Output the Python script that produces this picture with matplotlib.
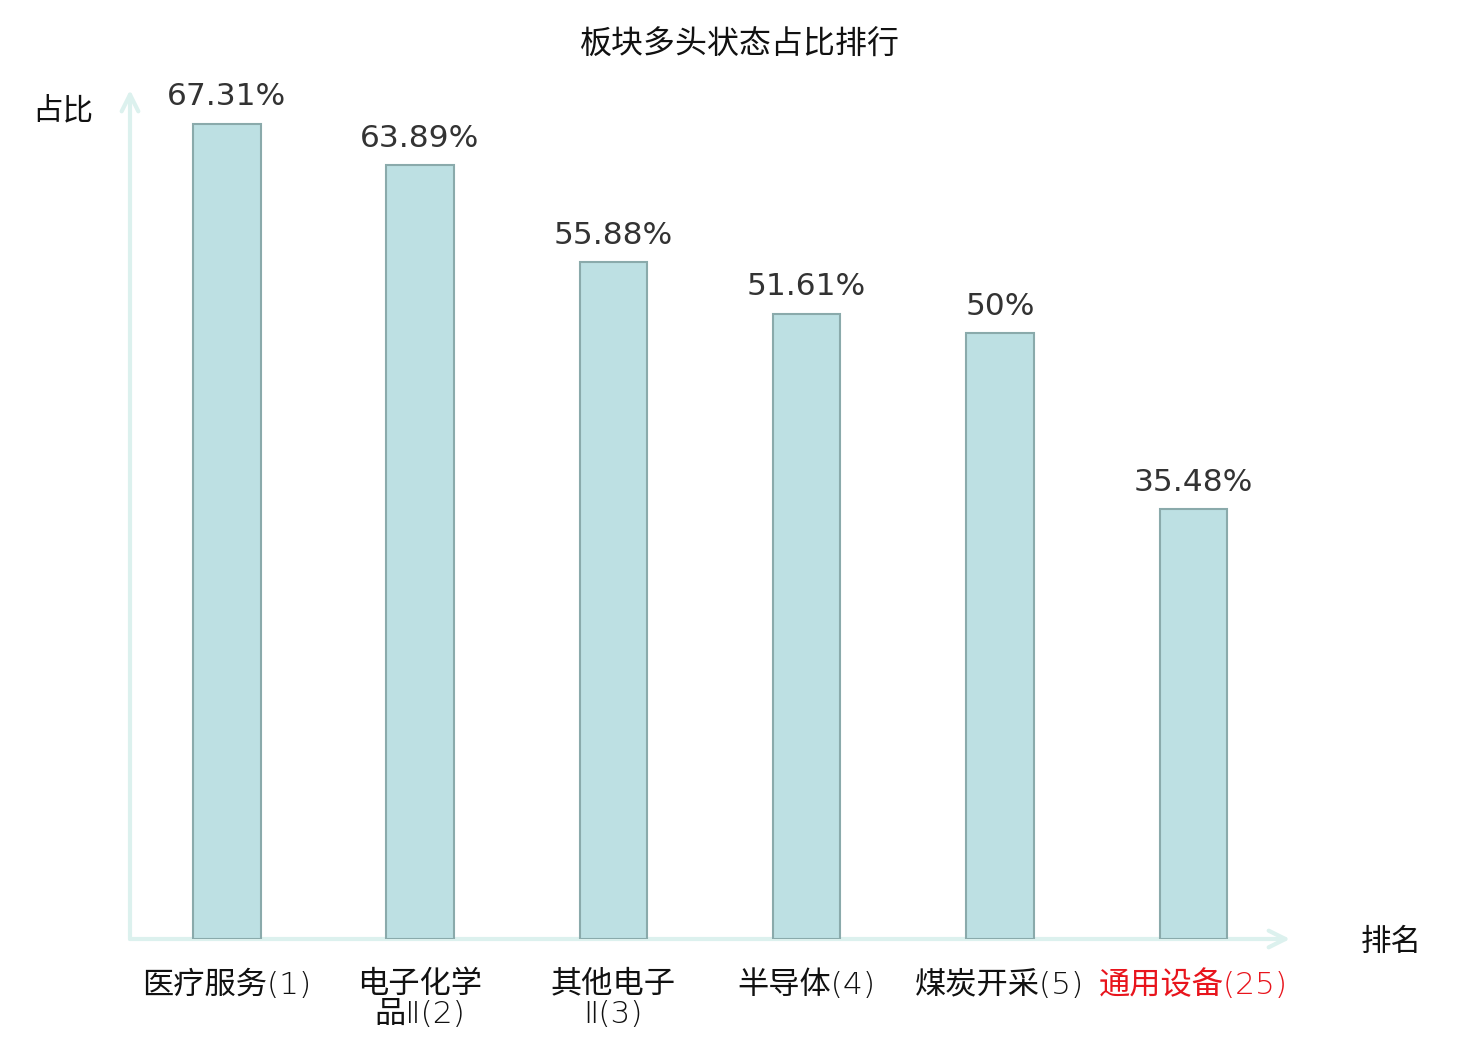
import matplotlib
matplotlib.use("Agg")
import matplotlib.pyplot as plt
from matplotlib.font_manager import FontProperties

plt.rcParams['font.family'] = ['Noto Sans CJK SC', 'DejaVu Sans']

# 数据
categories = ['医疗服务(1)', '电子化学\n品Ⅱ(2)', '其他电子\nⅡ(3)', '半导体(4)', '煤炭开采(5)', '通用设备(25)']
values = [67.31, 63.89, 55.88, 51.61, 50, 35.48]
value_labels = ['67.31%', '63.89%', '55.88%', '51.61%', '50%', '35.48%']
label_colors = ['#111111', '#111111', '#111111', '#111111', '#111111', '#e8141c']

W, H = 1480, 1040
fig = plt.figure(figsize=(W / 100, H / 100), dpi=100)
ax = fig.add_axes([130 / W, (H - 939) / H, 1160 / W, 849 / H])

x = list(range(len(categories)))
ax.bar(x, values, width=0.35, color='#bde0e3', edgecolor='#8aaaab', linewidth=1.5, zorder=2)

num_font = FontProperties(family='DejaVu Sans', size=22.5)
for i, v in enumerate(values):
    ax.annotate(value_labels[i], xy=(i, v), xytext=(0, 9), textcoords='offset points',
                ha='center', va='bottom', fontproperties=num_font, color='#333333')

ax.set_xlim(-0.5, 5.5)
ax.set_ylim(0, 70.1)
for s in ax.spines.values():
    s.set_visible(False)
ax.set_xticks([])
ax.set_yticks([])

# 坐标轴箭头
axis_col = '#dcf1ee'
ax.annotate('', xy=(1.0, 0), xytext=(0, 0), xycoords='axes fraction',
            arrowprops=dict(arrowstyle='->', color=axis_col, lw=3, mutation_scale=30,
                            shrinkA=0, shrinkB=0), zorder=1)
ax.annotate('', xy=(0, 1.0), xytext=(0, 0), xycoords='axes fraction',
            arrowprops=dict(arrowstyle='->', color=axis_col, lw=3, mutation_scale=30,
                            shrinkA=0, shrinkB=0), zorder=1)

# x轴标签
for i, c in enumerate(categories):
    ax.annotate(c, xy=(i, 0), xycoords=('data', 'axes fraction'), xytext=(0, -22),
                textcoords='offset points', ha='center', va='top', fontsize=22.5,
                color=label_colors[i], linespacing=1.05, weight=200,
                family=['DejaVu Sans', 'Noto Sans CJK SC'])

fig.text(740 / W, 1 - 45 / H, '板块多头状态占比排行', ha='center', va='center', fontsize=23, color='#111111')
fig.text(63 / W, 1 - 111 / H, '占比', ha='center', va='center', fontsize=22, color='#111111')
fig.text(1391 / W, 1 - 942 / H, '排名', ha='center', va='center', fontsize=22, color='#111111')

fig.savefig('out.png', dpi=100)
